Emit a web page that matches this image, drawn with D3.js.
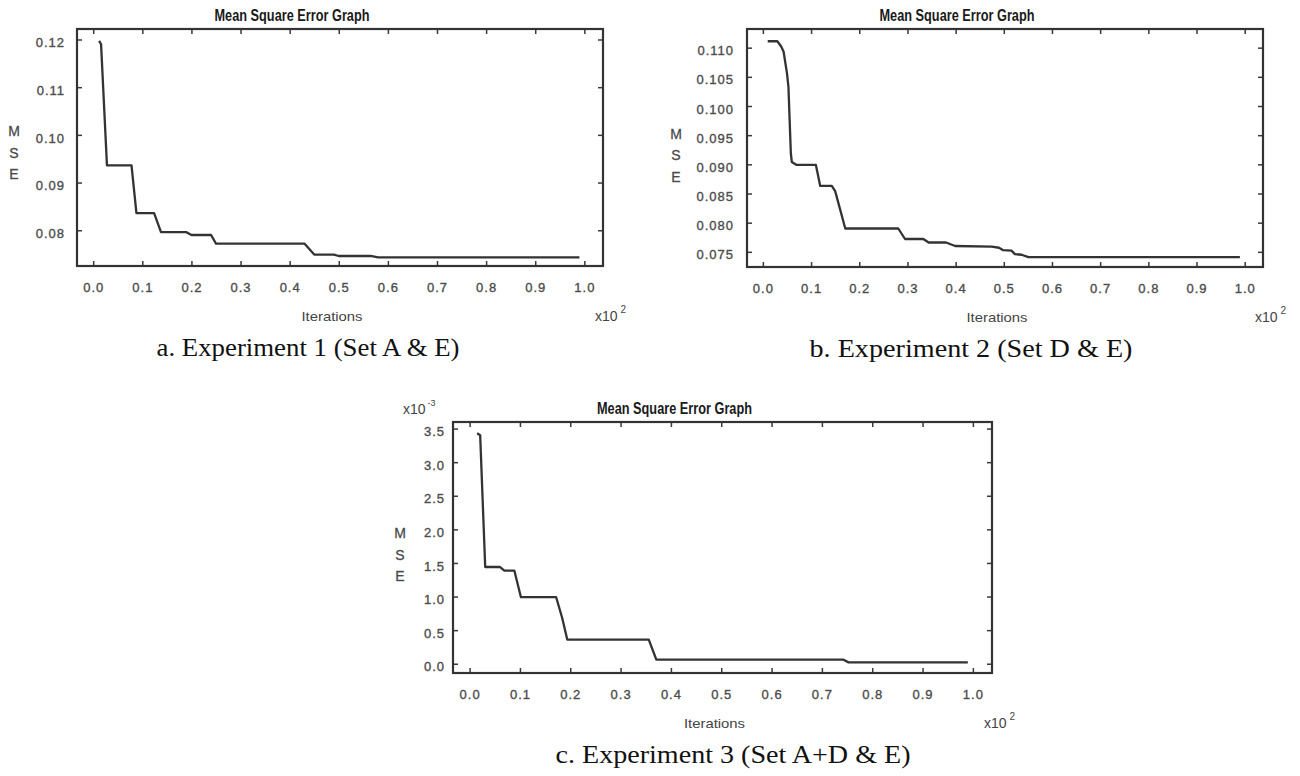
<!DOCTYPE html>
<html>
<head>
<meta charset="utf-8">
<script src="https://cdn.jsdelivr.net/npm/d3@7"></script>
<style>
  body { margin: 0; background: #fff; }
  svg { display: block; }
  .tick text { font-family: "Liberation Sans", Arial, sans-serif; font-size: 13px; fill: #444; stroke: #555; stroke-width: 0.35; letter-spacing: 1px; }
  .tick line { stroke: #3a3a3a; stroke-width: 1.5; }
</style>
</head>
<body>
<script>
// shared x axis ticks (iterations, x10^2)
const iterTicks = [0.0, 0.1, 0.2, 0.3, 0.4, 0.5, 0.6, 0.7, 0.8, 0.9, 1.0];

// a. Experiment 1 (Set A & E)
const exp1Iter = [0.012, 0.016, 0.028, 0.078, 0.088, 0.124, 0.138, 0.19, 0.2, 0.24, 0.25, 0.43, 0.45, 0.49, 0.5, 0.565, 0.58, 0.99];
const exp1Mse = [0.1197, 0.1190, 0.0936, 0.0936, 0.0836, 0.0836, 0.0796, 0.0796, 0.0790, 0.0790, 0.0772, 0.0772, 0.0749, 0.0749, 0.0746, 0.0746, 0.0743, 0.0743];
const exp1Ticks = [0.08, 0.09, 0.10, 0.11, 0.12];

// b. Experiment 2 (Set D & E)
const exp2Iter = [0.01, 0.03, 0.038, 0.043, 0.05, 0.053, 0.058, 0.06, 0.07, 0.11, 0.119, 0.143, 0.15, 0.171, 0.281, 0.295, 0.333, 0.344, 0.38, 0.399, 0.475, 0.49, 0.498, 0.516, 0.523, 0.537, 0.551, 0.99];
const exp2Mse = [0.1111, 0.1111, 0.1102, 0.1093, 0.1056, 0.1033, 0.0919, 0.0904, 0.0899, 0.0899, 0.0863, 0.0863, 0.0854, 0.0790, 0.0790, 0.0772, 0.0772, 0.0766, 0.0766, 0.0760, 0.0759, 0.0757, 0.0753, 0.0752, 0.0746, 0.0745, 0.0741, 0.0741];
const exp2Ticks = [0.075, 0.080, 0.085, 0.090, 0.095, 0.100, 0.105, 0.110];

// c. Experiment 3 (Set A+D & E), MSE in x10^-3
const exp3Iter = [0.015, 0.021, 0.031, 0.06, 0.069, 0.089, 0.102, 0.172, 0.184, 0.194, 0.356, 0.371, 0.743, 0.753, 0.99];
const exp3Mse = [3.43, 3.40, 1.44, 1.44, 1.385, 1.385, 0.99, 0.99, 0.68, 0.36, 0.36, 0.06, 0.06, 0.02, 0.02];
const exp3Ticks = [0.0, 0.5, 1.0, 1.5, 2.0, 2.5, 3.0, 3.5];

const W = 1300, H = 776;
const ink = "#333";
const sans = "'Liberation Sans', Arial, sans-serif";

const svg = d3.select("body").append("svg").attr("width", W).attr("height", H);

const drawPanel = (cfg) => {
  const { left, top, w, h } = cfg;
  const g = svg.append("g").attr("transform", `translate(${left},${top})`);

  const x = d3.scaleLinear().domain([-0.033, 1.038]).range([0, w]);
  const y = d3.scaleLinear().domain(cfg.yDomain).range([h, 0]);

  //Axes, ticks pointing inward on all four sides
  const xb = d3.axisBottom(x).tickValues(iterTicks).tickSize(-5).tickPadding(17).tickFormat(d3.format(".1f"));
  const xt = d3.axisTop(x).tickValues(iterTicks).tickSize(-5).tickFormat("");
  const yl = d3.axisLeft(y).tickValues(cfg.ticks).tickSize(-5).tickPadding(cfg.labelPad).tickFormat(d3.format(cfg.fmt));
  const yr = d3.axisRight(y).tickValues(cfg.ticks).tickSize(-5).tickFormat("");

  g.append("g").attr("transform", `translate(0,${h})`).call(xb);
  g.append("g").call(xt);
  g.append("g").call(yl).selectAll(".tick text").attr("dy", "0.55em");
  g.append("g").attr("transform", `translate(${w},0)`).call(yr);
  g.selectAll(".domain").remove();

  //Frame
  g.append("rect").attr("width", w).attr("height", h)
    .attr("fill", "none").attr("stroke", ink).attr("stroke-width", 2.2);

  //MSE line
  const pts = cfg.iter.map((d, i) => [d, cfg.mse[i]]);
  g.append("path").datum(pts)
    .attr("fill", "none").attr("stroke", ink).attr("stroke-width", 2.3)
    .attr("stroke-linejoin", "round")
    .attr("d", d3.line().x((d) => x(d[0])).y((d) => y(d[1])));

  //Title
  g.append("text").attr("x", w / 2 - 48).attr("y", -8)
    .attr("text-anchor", "middle").attr("font-family", sans)
    .attr("font-weight", "bold").attr("font-size", 16.5).attr("fill", "#1a1a1a")
    .attr("textLength", 155).attr("lengthAdjust", "spacingAndGlyphs")
    .text("Mean Square Error Graph");

  //Y label, stacked letters
  ["M", "S", "E"].forEach((c, i) => {
    g.append("text").attr("x", cfg.yLabelX).attr("y", h / 2 + cfg.yLabelDy + (i - 1) * 21.5)
      .attr("text-anchor", "middle").attr("font-family", sans)
      .attr("font-size", 14).attr("fill", "#444")
      .attr("stroke", "#555").attr("stroke-width", 0.3).text(c);
  });

  //X label
  g.append("text").attr("x", w / 2 - 8).attr("y", h + 55)
    .attr("text-anchor", "middle").attr("font-family", sans)
    .attr("font-size", 13).attr("fill", "#444")
    .attr("textLength", 61).attr("lengthAdjust", "spacingAndGlyphs")
    .text("Iterations");

  //x10^2 multiplier
  const mx = g.append("text").attr("x", w - 8).attr("y", h + 55)
    .attr("font-family", sans).attr("font-size", 14).attr("fill", "#444");
  mx.append("tspan").text("x10");
  mx.append("tspan").attr("dx", 3).attr("dy", -8).attr("font-size", 10).text("2");

  if (cfg.yExp) {
    const my = g.append("text").attr("x", -50).attr("y", -8)
      .attr("font-family", sans).attr("font-size", 14).attr("fill", "#444");
    my.append("tspan").text("x10");
    my.append("tspan").attr("dx", 2).attr("dy", -8).attr("font-size", 9).text(cfg.yExp);
  }

  //Sub caption
  svg.append("text").attr("x", cfg.capX).attr("y", top + h + 90)
    .attr("text-anchor", "middle")
    .attr("font-family", "'Liberation Serif', 'Times New Roman', serif")
    .attr("font-size", 25).attr("fill", "#111")
    .attr("textLength", cfg.capW).attr("lengthAdjust", "spacingAndGlyphs")
    .text(cfg.caption);
};

drawPanel({
  left: 77, top: 29, w: 526, h: 237,
  iter: exp1Iter, mse: exp1Mse, ticks: exp1Ticks,
  yDomain: [0.0725, 0.1222], fmt: ".2f", labelPad: 12,
  yLabelX: -63, yLabelDy: 10,
  caption: "a. Experiment 1 (Set A & E)", capX: 308, capW: 303
});

drawPanel({
  left: 747, top: 29, w: 516, h: 238,
  iter: exp2Iter, mse: exp2Mse, ticks: exp2Ticks,
  yDomain: [0.0724, 0.1132], fmt: ".3f", labelPad: 13,
  yLabelX: -71, yLabelDy: 12,
  caption: "b. Experiment 2 (Set D & E)", capX: 971, capW: 323
});

drawPanel({
  left: 453, top: 422, w: 539, h: 251,
  iter: exp3Iter, mse: exp3Mse, ticks: exp3Ticks,
  yDomain: [-0.138, 3.598], fmt: ".1f", labelPad: 8,
  yLabelX: -53, yLabelDy: 12, yExp: "-3",
  caption: "c. Experiment 3 (Set A+D & E)", capX: 733, capW: 355
});
</script>
</body>
</html>
